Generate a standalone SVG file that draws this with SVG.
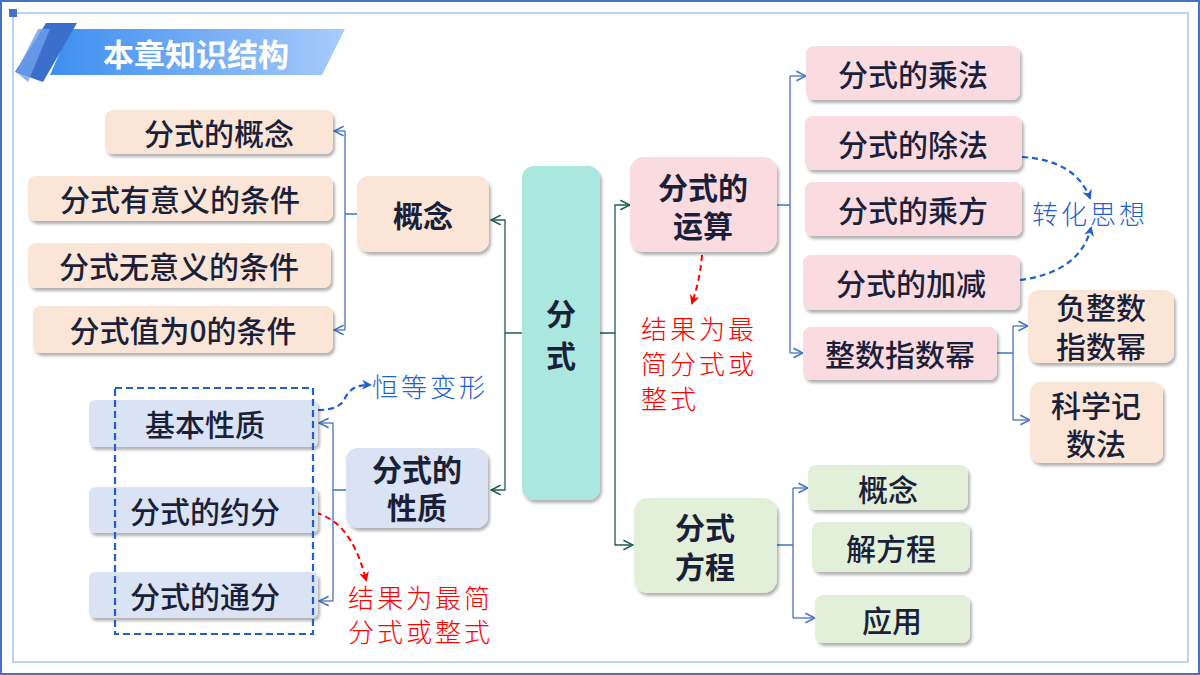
<svg xmlns="http://www.w3.org/2000/svg" width="1200" height="675" viewBox="0 0 1200 675">
<defs>
<filter id="sh" x="-10%" y="-10%" width="130%" height="140%"><feDropShadow dx="2" dy="3" stdDeviation="1.5" flood-color="#000" flood-opacity="0.3"/></filter>
<linearGradient id="tg" x1="0" x2="1"><stop offset="0" stop-color="#3d8ef0"/><stop offset="1" stop-color="#a8cbfa"/></linearGradient>
<marker id="ab" viewBox="0 0 10 10" refX="9" refY="5" markerWidth="12" markerHeight="12" markerUnits="userSpaceOnUse" orient="auto"><path d="M1 1 L9 5 L1 9" fill="none" stroke="#4472c4" stroke-width="1.3"/></marker>
<marker id="ag" viewBox="0 0 10 10" refX="9" refY="5" markerWidth="12" markerHeight="12" markerUnits="userSpaceOnUse" orient="auto"><path d="M1 1 L9 5 L1 9" fill="none" stroke="#1e5e4e" stroke-width="1.3"/></marker>
<marker id="ad" viewBox="0 0 10 10" refX="8" refY="5" markerWidth="10" markerHeight="10" markerUnits="userSpaceOnUse" orient="auto"><path d="M0 0 L10 5 L0 10 L3 5 Z" fill="#1f5fd0"/></marker>
<marker id="ar" viewBox="0 0 10 10" refX="8" refY="5" markerWidth="10" markerHeight="10" markerUnits="userSpaceOnUse" orient="auto"><path d="M0 0 L10 5 L0 10 L3 5 Z" fill="#ff0000"/></marker>
</defs>
<style>
.n{font-family:"Noto Sans CJK SC","Noto Sans",sans-serif;font-size:30px;font-weight:500;fill:#1a1f3a;text-anchor:middle;dominant-baseline:central}
.b{font-weight:bold}
.pe{fill:#fbe5d6}.pk{fill:#fadbe0}.bl{fill:#dae3f3}.gr{fill:#e2efd9}.tl{fill:#a9e7df}
.c{fill:none;stroke:#4472c4;stroke-width:1.3}
.g{fill:none;stroke:#1e5e4e;stroke-width:1.3}
.hand{font-family:"Noto Sans CJK SC",serif;font-size:26px;font-weight:300;letter-spacing:3px;dominant-baseline:central}
</style>
<rect x="1" y="1" width="1198" height="673" fill="#fff" stroke="#4472c4" stroke-width="2"/>
<path d="M13 13 H1188 V662 H13 Z" fill="none" stroke="#a8c3ec" stroke-width="1.5"/>
<rect x="9" y="9" width="8" height="8" fill="#4472c4"/>
<g id="title">
<polygon points="70,29 345,29 322,75 50,75" fill="url(#tg)"/>
<polygon points="46,23 77,23 43,82 15,72" fill="#3a6fcc"/>
<polygon points="38,29 50,29 28,82 16,72" fill="#6fa1ec" opacity="0.8"/>
<text x="196" y="52" class="n b" style="fill:#fff;font-size:31px">本章知识结构</text>
</g>
<g id="connectors">
<path class="c" d="M357 214 H345 M345 131 V330" /><path class="c" d="M345 131 H334" marker-end="url(#ab)"/><path class="c" d="M345 330 H334" marker-end="url(#ab)"/>
<path class="g" d="M522 333 H505 V220 H491" marker-end="url(#ag)"/><path class="g" d="M505 333 V490 H491" marker-end="url(#ag)"/>
<path class="c" d="M346 490 H333 M333 423 V601"/><path class="c" d="M333 423 H319" marker-end="url(#ab)"/><path class="c" d="M333 601 H319" marker-end="url(#ab)"/>
<path class="g" d="M600 333 H615 V205 H630" marker-end="url(#ag)"/><path class="g" d="M615 333 V545 H633" marker-end="url(#ag)"/>
<path class="c" d="M777 205 H790 M790 76 V353"/><path class="c" d="M790 76 H806" marker-end="url(#ab)"/><path class="c" d="M790 353 H803" marker-end="url(#ab)"/>
<path class="c" d="M997 353 H1013 M1013 326 V420"/><path class="c" d="M1013 326 H1028" marker-end="url(#ab)"/><path class="c" d="M1013 420 H1030" marker-end="url(#ab)"/>
<path class="c" d="M777 545 H793 M793 488 V618"/><path class="c" d="M793 488 H808" marker-end="url(#ab)"/><path class="c" d="M793 618 H815" marker-end="url(#ab)"/>
<path d="M1022 157 Q1075 160 1090 198" fill="none" stroke="#1f5fd0" stroke-width="2.2" stroke-dasharray="6,4" marker-end="url(#ad)"/>
<path d="M1020 280 Q1080 272 1091 228" fill="none" stroke="#1f5fd0" stroke-width="2.2" stroke-dasharray="6,4" marker-end="url(#ad)"/>
<path d="M318 410 Q340 410 345 398 Q352 384 370 385" fill="none" stroke="#1f5fd0" stroke-width="2.2" stroke-dasharray="6,4" marker-end="url(#ad)"/>
<path d="M702 255 Q700 280 692 303" fill="none" stroke="#ff0000" stroke-width="2" stroke-dasharray="6,4" marker-end="url(#ar)"/>
<path d="M306 511 Q350 515 366 580" fill="none" stroke="#ff0000" stroke-width="2" stroke-dasharray="6,4" marker-end="url(#ar)"/>
</g>
<g id="n1"><rect x="105" y="110" width="228" height="44" rx="8" class="pe" filter="url(#sh)"/><text x="219" y="132" class="n">分式的概念</text></g>
<g id="n2"><rect x="28" y="176" width="305" height="45" rx="8" class="pe" filter="url(#sh)"/><text x="180" y="198" class="n">分式有意义的条件</text></g>
<g id="n3"><rect x="28" y="243" width="303" height="45" rx="8" class="pe" filter="url(#sh)"/><text x="179" y="265" class="n">分式无意义的条件</text></g>
<g id="n4"><rect x="33" y="306" width="300" height="47" rx="8" class="pe" filter="url(#sh)"/><text x="183" y="329" class="n">分式值为0的条件</text></g>
<g id="n5"><rect x="357" y="176" width="132" height="76" rx="12" class="pe" filter="url(#sh)"/><text x="423" y="214" class="n b">概念</text></g>
<g id="center"><rect x="522" y="166" width="78" height="334" rx="12" class="tl" filter="url(#sh)"/><text x="561" y="312" class="n b">分</text><text x="561" y="354" class="n b">式</text></g>
<g id="n6"><rect x="346" y="448" width="142" height="80" rx="12" class="bl" filter="url(#sh)"/><text x="417" y="468" class="n b">分式的</text><text x="417" y="506" class="n b">性质</text></g>
<g id="n7"><rect x="89" y="400" width="229" height="47" rx="6" class="bl" filter="url(#sh)"/><text x="205" y="423" class="n">基本性质</text></g>
<g id="n8"><rect x="89" y="487" width="229" height="46" rx="6" class="bl" filter="url(#sh)"/><text x="205" y="510" class="n">分式的约分</text></g>
<g id="n9"><rect x="89" y="572" width="229" height="46" rx="6" class="bl" filter="url(#sh)"/><text x="205" y="595" class="n">分式的通分</text></g>
<rect x="115" y="388" width="198" height="246" fill="none" stroke="#1f5fd0" stroke-width="2.2" stroke-dasharray="7,4"/>
<text x="372" y="385" class="hand" style="fill:#1f5fd0">恒等变形</text>
<text x="348" y="596" class="hand" style="fill:#ff0000">结果为最简</text>
<text x="348" y="630" class="hand" style="fill:#ff0000">分式或整式</text>
<g id="n10"><rect x="630" y="157" width="147" height="95" rx="14" class="pk" filter="url(#sh)"/><text x="703" y="186" class="n b">分式的</text><text x="703" y="224" class="n b">运算</text></g>
<text x="641" y="327" class="hand" style="fill:#ff0000">结果为最</text>
<text x="641" y="362" class="hand" style="fill:#ff0000">简分式或</text>
<text x="641" y="397" class="hand" style="fill:#ff0000">整式</text>
<g id="n11"><rect x="806" y="46" width="214" height="54" rx="8" class="pk" filter="url(#sh)"/><text x="913" y="73" class="n">分式的乘法</text></g>
<g id="n12"><rect x="805" y="116" width="217" height="54" rx="8" class="pk" filter="url(#sh)"/><text x="913" y="143" class="n">分式的除法</text></g>
<g id="n13"><rect x="805" y="182" width="217" height="54" rx="8" class="pk" filter="url(#sh)"/><text x="913" y="209" class="n">分式的乘方</text></g>
<g id="n14"><rect x="803" y="255" width="217" height="55" rx="8" class="pk" filter="url(#sh)"/><text x="911" y="282" class="n">分式的加减</text></g>
<g id="n15"><rect x="803" y="327" width="194" height="53" rx="8" class="pk" filter="url(#sh)"/><text x="900" y="353" class="n">整数指数幂</text></g>
<text x="1032" y="212" class="hand" style="fill:#1f5fd0">转化思想</text>
<g id="n16"><rect x="1028" y="290" width="146" height="73" rx="10" class="pe" filter="url(#sh)"/><text x="1101" y="306" class="n">负整数</text><text x="1101" y="345" class="n">指数幂</text></g>
<g id="n17"><rect x="1030" y="382" width="133" height="81" rx="10" class="pe" filter="url(#sh)"/><text x="1096" y="404" class="n">科学记</text><text x="1096" y="442" class="n">数法</text></g>
<g id="n18"><rect x="634" y="498" width="143" height="95" rx="14" class="gr" filter="url(#sh)"/><text x="705" y="526" class="n b">分式</text><text x="705" y="565" class="n b">方程</text></g>
<g id="n19"><rect x="808" y="465" width="160" height="45" rx="8" class="gr" filter="url(#sh)"/><text x="888" y="488" class="n">概念</text></g>
<g id="n20"><rect x="812" y="522" width="158" height="50" rx="8" class="gr" filter="url(#sh)"/><text x="891" y="547" class="n">解方程</text></g>
<g id="n21"><rect x="815" y="595" width="155" height="48" rx="8" class="gr" filter="url(#sh)"/><text x="892" y="619" class="n">应用</text></g>
</svg>
